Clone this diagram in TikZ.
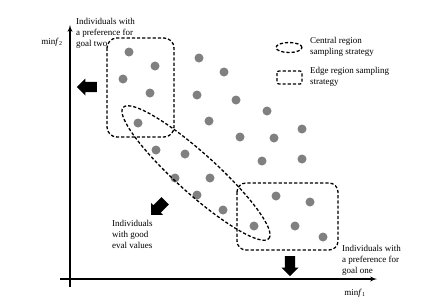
\documentclass[tikz,border=0pt]{standalone}
\usepackage{fontspec}
\setmainfont{Liberation Serif}
\usepackage{xcolor}
\usepackage{tikz}
\usetikzlibrary{shapes,arrows}
\definecolor{dotgray}{RGB}{128,128,128}
\tikzstyle{axisline} = [draw, line width=1.3pt, -latex']
\tikzstyle{region} = [draw, line width=1.3pt, dash pattern=on 3.2pt off 2pt]
\tikzstyle{note} = [anchor=north west, inner sep=0pt, align=left, font=\fontsize{9}{11}\selectfont]
\tikzstyle{bigarrow} = [single arrow, fill=black, inner xsep=0pt, inner ysep=5pt, minimum height=20pt, single arrow head extend=3.3pt, single arrow head indent=0pt]

\begin{document}
\begin{tikzpicture}[x=1pt,y=-1pt]
\useasboundingbox (0,0) rectangle (443,306);
\coordinate (ystart) at (70,287);
\coordinate (yend) at (70,25);
\coordinate (xstart) at (60,279);
\coordinate (xend) at (377,279);
\path[axisline] (ystart) -- (yend);
\path[axisline] (xstart) -- (xend);
\node[inner sep=0pt, font=\fontsize{9}{11}\selectfont] (ylabel) at (52,42) {min\textit{f}\textsubscript{2}};
\node[inner sep=0pt, font=\fontsize{9}{11}\selectfont] (xlabel) at (355,293) {min\textit{f}\textsubscript{1}};
%
\fill[dotgray] (129,52) circle (4.5pt);
\fill[dotgray] (155,66) circle (4.5pt);
\fill[dotgray] (123,79) circle (4.5pt);
\fill[dotgray] (150,93) circle (4.5pt);
\fill[dotgray] (138,123) circle (4.5pt);
\fill[dotgray] (199,58) circle (4.5pt);
\fill[dotgray] (224,72) circle (4.5pt);
\fill[dotgray] (197,95) circle (4.5pt);
\fill[dotgray] (236,100) circle (4.5pt);
\fill[dotgray] (267,111) circle (4.5pt);
\fill[dotgray] (302,129) circle (4.5pt);
\fill[dotgray] (209,121) circle (4.5pt);
\fill[dotgray] (240,137) circle (4.5pt);
\fill[dotgray] (274,138) circle (4.5pt);
\fill[dotgray] (156,150) circle (4.5pt);
\fill[dotgray] (185,154) circle (4.5pt);
\fill[dotgray] (262,161) circle (4.5pt);
\fill[dotgray] (302,159) circle (4.5pt);
\fill[dotgray] (175,178) circle (4.5pt);
\fill[dotgray] (210,178) circle (4.5pt);
\fill[dotgray] (197,195) circle (4.5pt);
\fill[dotgray] (223,210) circle (4.5pt);
\fill[dotgray] (276,196) circle (4.5pt);
\fill[dotgray] (310,202) circle (4.5pt);
\fill[dotgray] (254,226) circle (4.5pt);
\fill[dotgray] (295,226) circle (4.5pt);
\fill[dotgray] (323,237) circle (4.5pt);
%
\draw[region, rounded corners=10pt] (107,38) rectangle (174,137);
\draw[region, rounded corners=9pt] (237,183) rectangle (338,250);
\draw[region, rotate around={-42:(196,173)}] (196,173) ellipse [x radius=98pt, y radius=20pt];
%
\draw[region] (289,47.5) ellipse [x radius=13pt, y radius=5pt];
\draw[region, rounded corners=2pt] (277,71) rectangle (302,84);
\node[note] (central) at (310,37.5) {Central region\\sampling strategy};
\node[note] (edge) at (310,67) {Edge region sampling\\strategy};
%
\node[note] (goaltwo) at (76,18.5) {Individuals with\\a preference for\\goal two};
\node[note] (good) at (112,220) {Individuals\\with good\\eval values};
\node[note] (goalone) at (342,245.5) {Individuals with\\a preference for\\goal one};
%
\node[bigarrow, rotate=180] (leftarrow) at (89.5,87) {};
\node[bigarrow, rotate=-135] (diagarrow) at (160,206) {};
\node[bigarrow, rotate=-90] (downarrow) at (290,263.5) {};
\end{tikzpicture}
\end{document}
